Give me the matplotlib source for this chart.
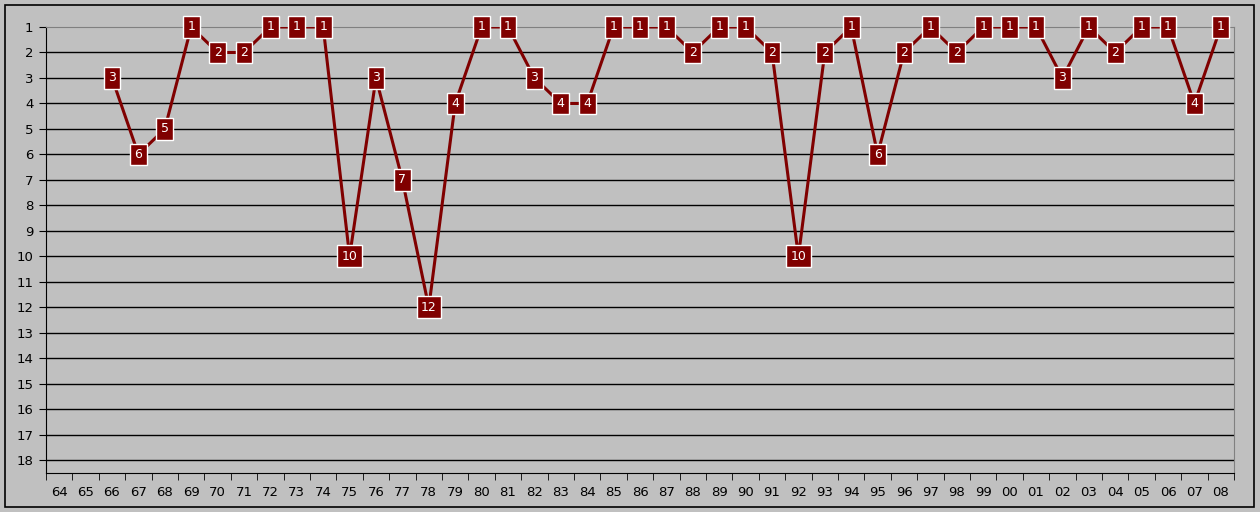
import numpy as np
import matplotlib.pyplot as plt

years = ["64", "65", "66", "67", "68", "69", "70", "71", "72", "73", "74", "75",
         "76", "77", "78", "79", "80", "81", "82", "83", "84", "85", "86", "87",
         "88", "89", "90", "91", "92", "93", "94", "95", "96", "97", "98", "99",
         "00", "01", "02", "03", "04", "05", "06", "07", "08"]
positions = [np.nan, np.nan, 3, 6, 5, 1, 2, 2, 1, 1, 1, 10,
             3, 7, 12, 4, 1, 1, 3, 4, 4, 1, 1, 1,
             2, 1, 1, 2, 10, 2, 1, 6, 2, 1, 2, 1,
             1, 1, 3, 1, 2, 1, 1, 4, 1]

bg = "#c0c0c0"
red = "#800000"

fig = plt.figure(figsize=(12.6, 5.12), dpi=100, facecolor=bg)
# outer frame
fig.patches.append(plt.Rectangle((5 / 1260, 5 / 512), 1249 / 1260, 502 / 512,
                                 transform=fig.transFigure, fill=False,
                                 edgecolor="black", linewidth=1.2))
ax = fig.add_axes([46 / 1260, 1 - 473 / 512, 1188 / 1260, 446 / 512])
ax.set_facecolor(bg)

x = np.arange(len(years))
y = np.array(positions, dtype=float)
ax.plot(x, y, color=red, linewidth=2.2, zorder=3)
for xi, yi in zip(x, y):
    if np.isnan(yi):
        continue
    ax.text(xi, yi, str(int(yi)), ha="center", va="center", color="white",
            fontsize=9, zorder=4,
            bbox=dict(boxstyle="square,pad=0.35", fc=red, ec="white", lw=1))

ax.set_xlim(-0.5, len(years) - 0.5)
ax.set_ylim(18.5, 1)
ax.set_yticks(range(1, 19))
ax.set_yticklabels([str(i) for i in range(1, 19)], fontsize=9.5)
ax.set_xticks(x)
ax.set_xticklabels(years, fontsize=9.5)
ax.set_xticks(np.arange(-0.5, len(years), 1), minor=True)
ax.tick_params(axis="x", which="major", length=0, pad=9)
ax.tick_params(axis="x", which="minor", length=5, direction="out", color="black")
ax.tick_params(axis="y", length=5, direction="out", pad=4)
for v in range(2, 19):
    ax.axhline(v, color="black", linewidth=1, zorder=1)

ax.spines["left"].set_color("black")
ax.spines["bottom"].set_color("black")
ax.spines["top"].set_color("#808080")
ax.spines["right"].set_color("#808080")

fig.savefig("out.png", dpi=100, facecolor=bg)
